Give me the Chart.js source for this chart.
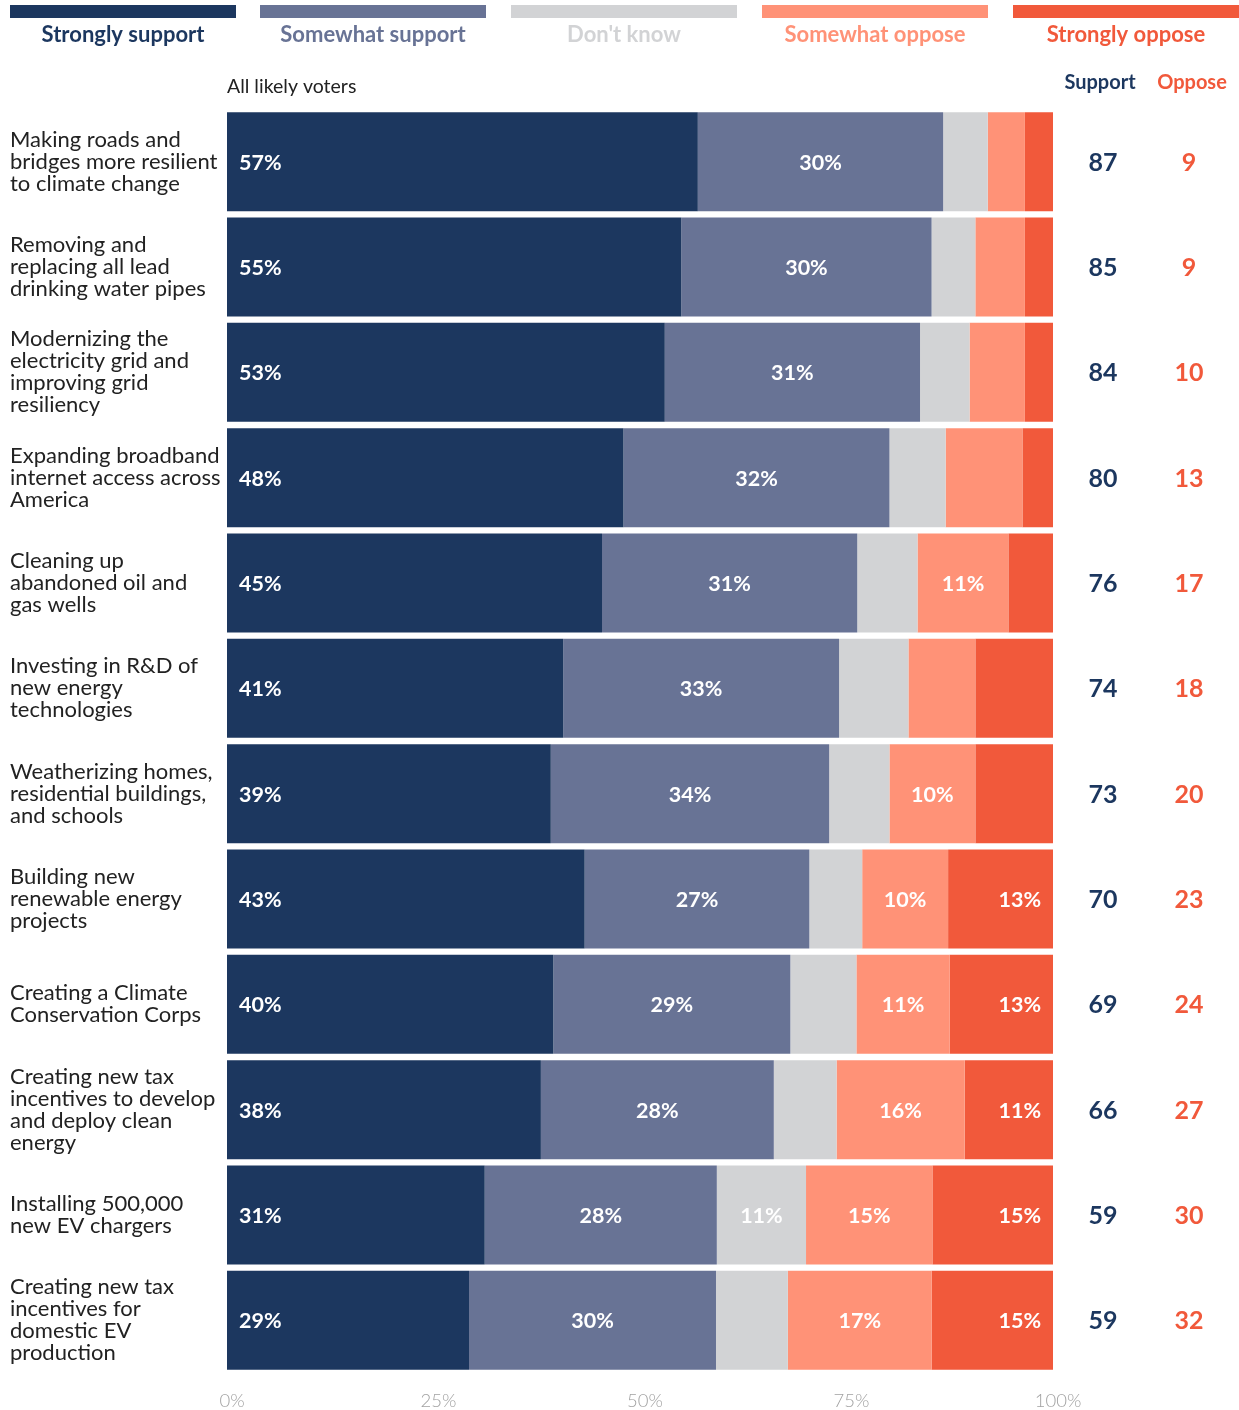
<!DOCTYPE html>
<html>
<head>
<meta charset="utf-8">
<script src="https://cdn.jsdelivr.net/npm/chart.js@4.4.1/dist/chart.umd.min.js"></script>
<style>
  html, body { margin: 0; padding: 0; background: #fff; }
  #wrap { position: relative; width: 1239px; height: 1410px; }
</style>
</head>
<body>
<div id="wrap"><canvas id="js-chart" width="1239" height="1410"></canvas></div>
<script>
// categories, each split into lines the way the chart wraps them
var categories = [
  ['Making roads and', 'bridges more resilient', 'to climate change']
, ['Removing and', 'replacing all lead', 'drinking water pipes']
, ['Modernizing the', 'electricity grid and', 'improving grid', 'resiliency']
, ['Expanding broadband', 'internet access across', 'America']
, ['Cleaning up', 'abandoned oil and', 'gas wells']
, ['Investing in R&D of', 'new energy', 'technologies']
, ['Weatherizing homes,', 'residential buildings,', 'and schools']
, ['Building new', 'renewable energy', 'projects']
, ['Creating a Climate', 'Conservation Corps']
, ['Creating new tax', 'incentives to develop', 'and deploy clean', 'energy']
, ['Installing 500,000', 'new EV chargers']
, ['Creating new tax', 'incentives for', 'domestic EV', 'production']
]

var stronglySupport = [57, 55, 53, 48, 45.4, 40.7, 39.2, 43.3, 39.5, 38, 31.2, 29.3]
var somewhatSupport = [29.7, 30.3, 30.9, 32.2, 30.9, 33.4, 33.7, 27.2, 28.7, 28.2, 28.1, 29.9]
var dontKnow        = [5.4, 5.3, 6.0, 6.8, 7.3, 8.4, 7.3, 6.4, 8.0, 7.6, 10.8, 8.7]
var somewhatOppose  = [4.5, 6.0, 6.7, 9.3, 11.0, 8.1, 10.4, 10.4, 11.3, 15.5, 15.3, 17.4]
var stronglyOppose  = [3.4, 3.4, 3.4, 3.7, 5.4, 9.4, 9.4, 12.7, 12.5, 10.7, 14.6, 14.7]

var supportTotal = [87, 85, 84, 80, 76, 74, 73, 70, 69, 66, 59, 59]
var opposeTotal  = [9, 9, 10, 13, 17, 18, 20, 23, 24, 27, 30, 32]

var xTicks = [0, 25, 50, 75, 100]

var NAVY = '#1c375f'
  , SLATE = '#687395'
  , GREY = '#d2d3d5'
  , SALMON = '#ff9277'
  , RED = '#f1593b'
  , FONT = 'Lato, "Open Sans", sans-serif'

var series = [
  { label: 'Strongly support', data: stronglySupport, color: NAVY,   align: 'left' }
, { label: 'Somewhat support', data: somewhatSupport, color: SLATE,  align: 'center' }
, { label: "Don't know",       data: dontKnow,        color: GREY,   align: 'center' }
, { label: 'Somewhat oppose',  data: somewhatOppose,  color: SALMON, align: 'center' }
, { label: 'Strongly oppose',  data: stronglyOppose,  color: RED,    align: 'right' }
]

function dataset(s) {
  return {
    label: s.label
  , data: s.data
  , backgroundColor: s.color
  , borderWidth: 0
  , barPercentage: 0.94
  , categoryPercentage: 1
  }
}

// percent labels inside the bar segments
var segmentLabels = {
  id: 'segmentLabels'
, afterDatasetsDraw: function(chart) {
    var ctx = chart.ctx
    ctx.save()
    ctx.fillStyle = '#fff'
    ctx.font = 'bold 21.5px ' + FONT
    ctx.textBaseline = 'middle'
    series.forEach(function(s, i) {
      chart.getDatasetMeta(i).data.forEach(function(bar, j) {
        var pct = Math.round(s.data[j])
        if (pct < 10) return
        var left = Math.min(bar.x, bar.base), right = Math.max(bar.x, bar.base)
        var x = (left + right) / 2
        if (s.align === 'left') x = left + 12
        if (s.align === 'right') x = right - 12
        ctx.textAlign = s.align
        ctx.fillText(pct + '%', x, bar.y + 1)
      })
    })
    ctx.restore()
  }
}

// legend strip, subtitle and the support / oppose columns
var decorations = {
  id: 'decorations'
, afterDraw: function(chart) {
    var ctx = chart.ctx
    var yScale = chart.scales.y
    ctx.save()
    ctx.textBaseline = 'middle'
    ctx.textAlign = 'center'

    var legendX = [10, 260, 511, 762, 1013]
    series.forEach(function(s, i) {
      ctx.fillStyle = s.color
      ctx.fillRect(legendX[i], 5, 226, 13)
      ctx.font = 'bold 22px ' + FONT
      ctx.fillText(s.label, legendX[i] + 113, 35)
    })

    ctx.textAlign = 'left'
    ctx.fillStyle = '#222'
    ctx.font = '19.5px ' + FONT
    ctx.fillText('All likely voters', 227, 87)

    ctx.textAlign = 'center'
    ctx.font = 'bold 20px ' + FONT
    ctx.fillStyle = NAVY
    ctx.fillText('Support', 1100, 83)
    ctx.fillStyle = RED
    ctx.fillText('Oppose', 1192, 83)

    ctx.font = 'bold 25px ' + FONT
    categories.forEach(function(c, j) {
      var y = yScale.getPixelForValue(j) + 1
      ctx.fillStyle = NAVY
      ctx.fillText(supportTotal[j], 1103, y)
      ctx.fillStyle = RED
      ctx.fillText(opposeTotal[j], 1189, y)
    })
    ctx.restore()
  }
}

var ctx = document.getElementById('js-chart').getContext('2d')
new Chart(ctx, {
  type: 'bar'
, data: {
    labels: categories
  , datasets: series.map(dataset)
  }
, options: {
    indexAxis: 'y'
  , responsive: false
  , animation: false
  , devicePixelRatio: 1
  , layout: { padding: { left: 10, right: 186, top: 109, bottom: 0 } }
  , plugins: { legend: { display: false }, tooltip: { enabled: false } }
  , scales: {
      x: {
        stacked: true
      , min: 0
      , max: 100
      , border: { display: false }
      , grid: { display: false, drawTicks: false }
      , afterBuildTicks: function(scale) {
          scale.ticks = xTicks.map(function(v) { return { value: v } })
        }
      , afterFit: function(scale) { scale.height = 37 }
      , ticks: {
          padding: 17
        , labelOffset: 5
        , color: '#a2a2a2'
        , font: { family: FONT, size: 18.5, weight: 300 }
        , callback: function(v) { return v + '%' }
        }
      }
    , y: {
        stacked: true
      , border: { display: false }
      , grid: { display: false, drawTicks: false }
      , afterFit: function(scale) { scale.width = 217 }
      , ticks: {
          crossAlign: 'far'
        , padding: 0
        , color: '#222'
        , font: { family: FONT, size: 22, lineHeight: 1.0 }
        }
      }
    }
  }
, plugins: [segmentLabels, decorations]
})
</script>
</body>
</html>
